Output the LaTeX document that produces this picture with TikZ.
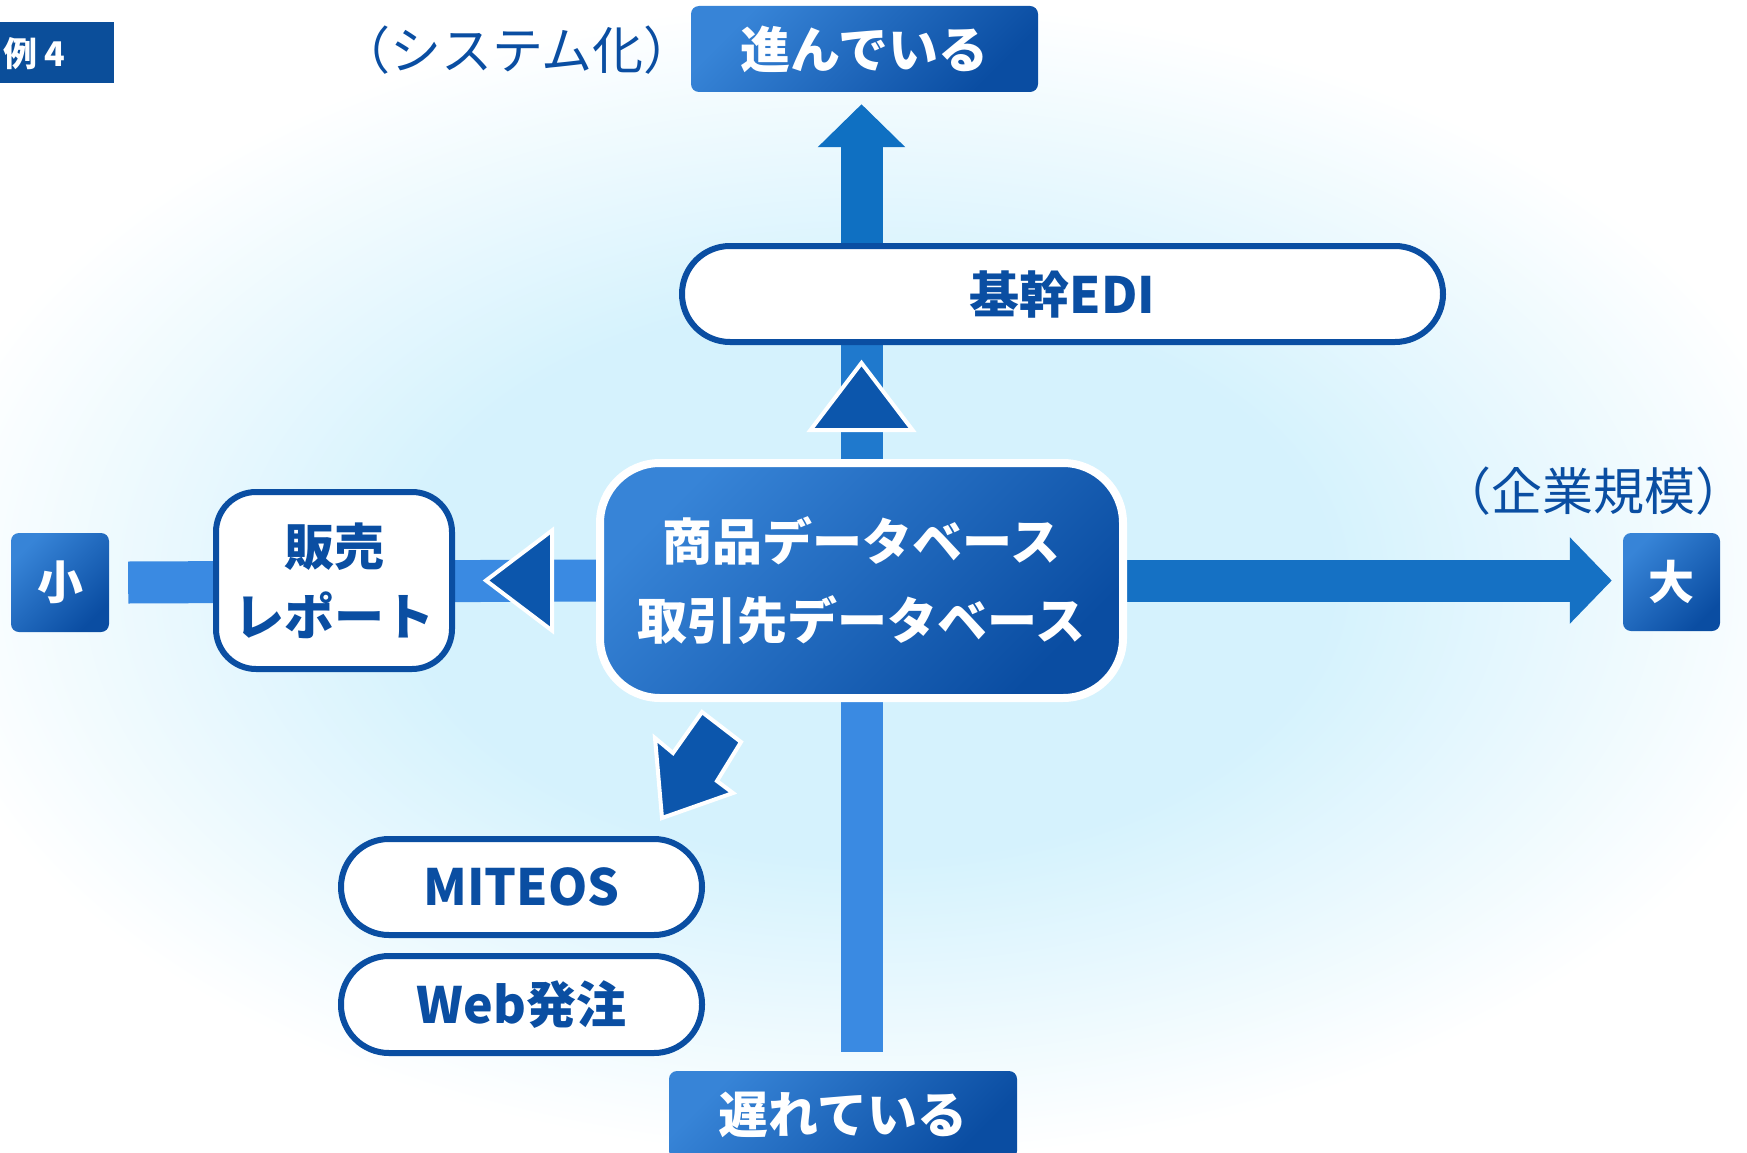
\documentclass[tikz,border=0pt]{standalone}
\usepackage{fontspec}
\setmainfont{Noto Sans CJK JP}
\usepackage{tikz}
\usetikzlibrary{arrows.meta, calc}
\definecolor{navy}{HTML}{0A4EA2}
\definecolor{tagblue}{HTML}{0B4E9A}
\definecolor{boxlight}{HTML}{3784D7}
\definecolor{boxdark}{HTML}{0A4DA2}
\definecolor{pointblue}{HTML}{0C56AC}
\definecolor{bgcyan}{HTML}{D5F2FD}
\definecolor{upcol}{HTML}{0F70C2}
\definecolor{midcol}{HTML}{1F79CD}
\definecolor{sidecol}{HTML}{3A8AE2}
\definecolor{rightcol}{HTML}{1571C4}
\pgfdeclareradialshading{glow}{\pgfpoint{0bp}{0bp}}{color(0bp)=(bgcyan); color(12bp)=(bgcyan); color(25bp)=(white); color(50bp)=(white)}
\pgfdeclarelayer{glowlayer}
\pgfdeclarelayer{barlayer}
\pgfsetlayers{glowlayer,barlayer,main}
\tikzstyle{bar} = [line width=42pt]

\begin{document}
\begin{tikzpicture}
        [
            x=1pt, y=-1pt,
            every node/.style={inner sep=0pt},
            tagbox/.style={rectangle, fill=tagblue},
            darkbox/.style={rectangle, rounded corners=8pt, top color=boxlight, bottom color=boxdark, shading angle=45, text=white, font=\fontsize{50}{60}\selectfont\bfseries},
            pill/.style={rectangle, draw=navy, line width=6pt, fill=white, text=navy, font=\fontsize{50}{60}\selectfont\bfseries},
            axislabel/.style={text=navy, font=\fontsize{51}{56}\selectfont},
            pointer/.style={fill=pointblue, draw=white, line width=4pt, line join=miter},
        ]
    \useasboundingbox (0,0) rectangle (1747,1153);

    \begin{pgfonlayer}{glowlayer}
        \shade[shading=glow] (870,580) ellipse [x radius=960, y radius=580];
    \end{pgfonlayer}

    \node[tagbox, minimum width=134pt, minimum height=61pt] (tag) at (47,52.5) {};
    \node[anchor=west, text=white, font=\fontsize{34}{40}\selectfont\bfseries] (tagtext) at (3,54) {例 4};
    \node[axislabel] (sys) at (517,50) {（システム化）};
    \node[darkbox, minimum width=347pt, minimum height=86pt] (ahead) at (864.5,49) {進んでいる};
    \node[pill, rounded corners=48pt, minimum width=761pt, minimum height=96pt] (edi) at (1062.5,294) {基幹EDI};
    \node[pill, rounded corners=40pt, minimum width=236pt, minimum height=177pt, align=center, font=\fontsize{50}{70}\selectfont\bfseries] (report) at (334,580.5) {販売\\レポート};
    \node[darkbox, draw=white, line width=8pt, rounded corners=60pt, minimum width=523pt, minimum height=235pt, align=center, font=\fontsize{50}{79}\selectfont\bfseries] (db) at (861.5,580.5) {商品データベース\\取引先データベース};
    \node[darkbox, minimum width=98pt, minimum height=99pt, font=\fontsize{46}{50}\selectfont\bfseries] (small) at (60,582.5) {小};
    \node[darkbox, minimum width=97pt, minimum height=98pt, font=\fontsize{46}{50}\selectfont\bfseries] (large) at (1671.5,582) {大};
    \node[axislabel] (size) at (1593,491) {（企業規模）};
    \node[pill, rounded corners=48pt, minimum width=361pt, minimum height=96pt] (miteos) at (521.5,887) {MITEOS};
    \node[pill, rounded corners=48pt, minimum width=361pt, minimum height=97pt] (web) at (521.5,1004.5) {Web発注};
    \node[darkbox, minimum width=348pt, minimum height=88pt] (behind) at (843,1115) {遅れている};

    \begin{pgfonlayer}{barlayer}
        \draw[bar, midcol] (db.north) -- (edi.south -| db.north);
        \draw[bar, upcol, -{Triangle[length=43pt, width=85pt]}] (db.north |- edi.north) -- ($(db.north |- ahead.south)+(0,12)$);
        \draw[bar, sidecol] ([xshift=19pt]small.east) -- (db.west);
        \draw[bar, rightcol, -{Triangle[length=42pt, width=84pt]}] (db.east) -- ($(db.east -| large.west)+(-11,0)$);
        \draw[bar, sidecol] (db.south) -- ($(db.south |- behind.north)+(0,-19)$);
    \end{pgfonlayer}

    \filldraw[pointer] ([shift={(-51,-29)}]db.north) -- ([shift={(51,-29)}]db.north) -- ([shift={(0,-96)}]db.north) -- cycle;
    \filldraw[pointer] ([shift={(-44,-50)}]db.west) -- ([shift={(-44,50)}]db.west) -- ([shift={(-110,0)}]db.west) -- cycle;
    \begin{scope}[shift={(db.south)}]
        \filldraw[pointer] (-159.5,10) -- (-120.5,40) -- (-144.5,79) -- (-128.5,91) -- (-199.5,116) -- (-206.5,36) -- (-188.5,51) -- cycle;
    \end{scope}
\end{tikzpicture}
\end{document}
